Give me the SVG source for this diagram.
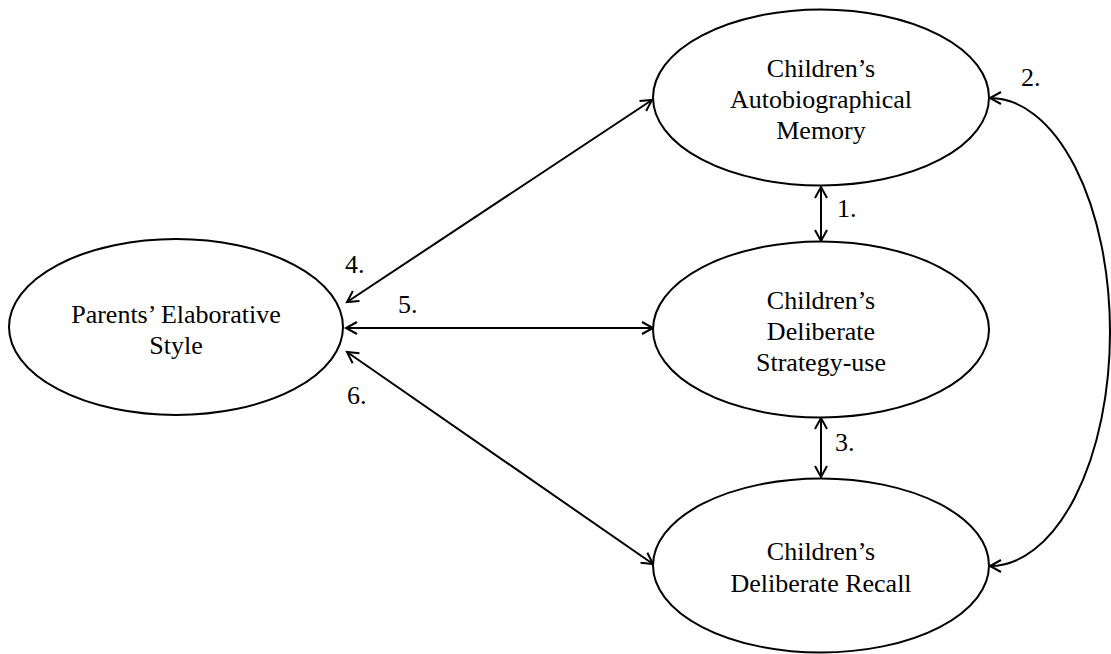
<svg xmlns="http://www.w3.org/2000/svg" width="1111" height="654" viewBox="0 0 1111 654">
<style>
.node ellipse{fill:#fff;stroke:#000;stroke-width:2}
.node text, .lbl{font-family:"Liberation Serif","Times New Roman",serif;font-size:26px;fill:#000;text-anchor:middle}
.lbl{text-anchor:start}
.conn{fill:none;stroke:#000;stroke-width:2;marker-start:url(#ah);marker-end:url(#ah)}
</style>
<defs>
<marker id="ah" markerUnits="userSpaceOnUse" markerWidth="16" markerHeight="16" refX="12" refY="7" orient="auto-start-reverse" overflow="visible">
<path d="M1,1 L12,7 L1,13" fill="none" stroke="#000" stroke-width="2" stroke-linejoin="miter"/>
</marker>
</defs>
<rect width="1111" height="654" fill="#fff"/>
<g id="connectors">
<line class="conn" x1="821" y1="187" x2="821" y2="241"/>
<path class="conn" d="M990,98 A120,234 0 0 1 990,566"/>
<line class="conn" x1="821" y1="418" x2="821" y2="477"/>
<line class="conn" x1="347" y1="302" x2="652" y2="100"/>
<line class="conn" x1="346" y1="328" x2="653" y2="328"/>
<line class="conn" x1="347" y1="352" x2="653" y2="564"/>
</g>
<g id="labels">
<text class="lbl" x="837" y="217">1.</text>
<text class="lbl" x="1021" y="86">2.</text>
<text class="lbl" x="835" y="451">3.</text>
<text class="lbl" x="345" y="273">4.</text>
<text class="lbl" x="398" y="313">5.</text>
<text class="lbl" x="347" y="404">6.</text>
</g>
<g id="node-parents" class="node">
<ellipse cx="176" cy="327" rx="167" ry="88"/>
<text x="176" y="323">Parents’ Elaborative</text>
<text x="176" y="354">Style</text>
</g>
<g id="node-autobio" class="node">
<ellipse cx="821" cy="97.5" rx="168" ry="88"/>
<text x="821" y="77">Children’s</text>
<text x="821" y="108">Autobiographical</text>
<text x="821" y="139">Memory</text>
</g>
<g id="node-strategy" class="node">
<ellipse cx="821" cy="329.5" rx="168" ry="88"/>
<text x="821" y="309">Children’s</text>
<text x="821" y="340">Deliberate</text>
<text x="821" y="371">Strategy-use</text>
</g>
<g id="node-recall" class="node">
<ellipse cx="821" cy="565.5" rx="168" ry="87"/>
<text x="821" y="560">Children’s</text>
<text x="821" y="592">Deliberate Recall</text>
</g>
</svg>
